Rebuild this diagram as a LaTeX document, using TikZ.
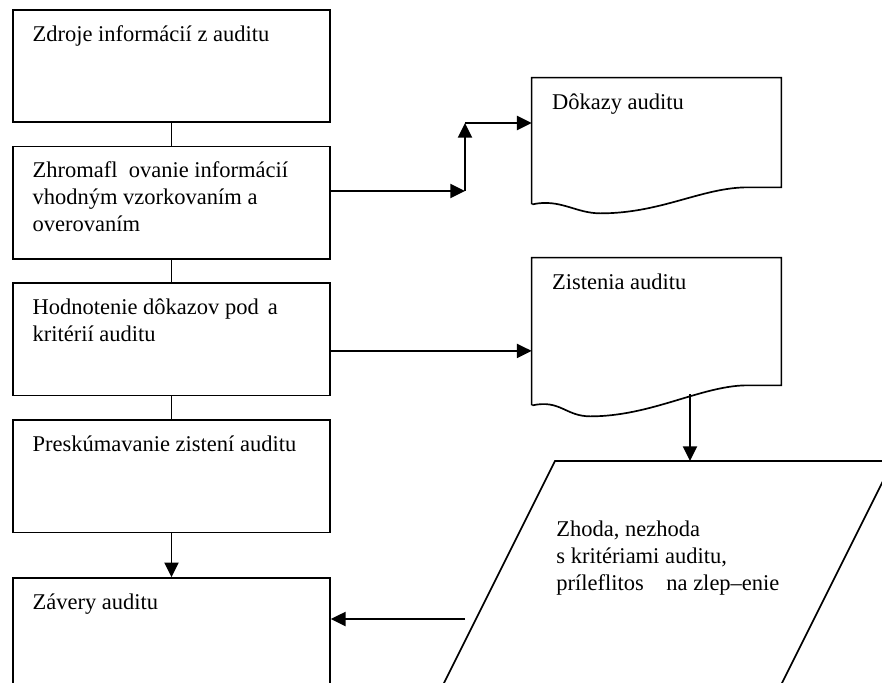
\documentclass[tikz,border=0pt]{standalone}
\usepackage{fontspec}
\setmainfont{Liberation Serif}
\usetikzlibrary{arrows.meta,positioning,calc}
\tikzset{
  step box/.style={
    rectangle, draw=black, line width=0.9pt,
    minimum width=169.1pt, minimum height=60pt, inner sep=0pt
  },
  doc area/.style={
    rectangle, minimum width=132.8pt, inner sep=0pt
  },
  boxtext/.style={
    align=left, inner sep=0pt,
    font=\fontsize{12}{14.2}\selectfont
  },
  outline/.style={line width=0.9pt, draw=black},
  arrow/.style={-{Triangle[length=7.8pt, width=7.5pt]}, line width=0.9pt, draw=black}
}

\begin{document}
\begin{tikzpicture}[x=0.5333pt, y=-0.5333pt, node distance=12pt]
  \clip (0,0) rectangle (882,683);

  % left column
  \node[step box] (source) at (171.5,66) {};
  \node[step box, below=of source] (gather) {};
  \node[step box, below=of gather] (evaluate) {};
  \node[step box, below=of evaluate] (review) {};
  \node[step box, below=23.5pt of review] (conclude) {};

  \node[boxtext, below right=8.6pt and 10.7pt of source.north west] (sourcetxt)
    {Zdroje informácií z auditu};
  \node[boxtext, below right=8.6pt and 10.7pt of gather.north west] (gathertxt)
    {Zhromafl\hspace{0.5em}ovanie informácií\\vhodným vzorkovaním a\\overovaním};
  \node[boxtext, below right=8.6pt and 10.7pt of evaluate.north west] (evaluatetxt)
    {Hodnotenie dôkazov pod\hspace{0.4em}a\\kritérií auditu};
  \node[boxtext, below right=8.6pt and 10.7pt of review.north west] (reviewtxt)
    {Preskúmavanie zistení auditu};
  \node[boxtext, below right=8.6pt and 10.7pt of conclude.north west] (concludetxt)
    {Závery auditu};

  \draw[outline] (source) -- (gather);
  \draw[outline] (gather) -- (evaluate);
  \draw[outline] (evaluate) -- (review);
  \draw[arrow] (review) -- (conclude);

  % documents
  \node[doc area, minimum height=58.1pt] (evidence) at (656.5,132.5) {};
  \draw[outline] (evidence.south west) ++(0,17) -- (evidence.north west)
    -- (evidence.north east) -- (evidence.south east) -- ++(-36,0)
    .. controls +(-45,1) and +(60,0) .. ++(-145,26)
    .. controls +(-25,0) and +(28,-6) .. ++(-68,-9);
  \node[boxtext, below right=8.6pt and 10.7pt of evidence.north west] (evidencetxt)
    {Dôkazy auditu};

  \node[doc area, minimum height=67.7pt] (findings) at (656.5,321.5) {};
  \draw[outline] (findings.south west) ++(0,20) -- (findings.north west)
    -- (findings.north east) -- (findings.south east) -- ++(-36,0)
    .. controls +(-45,1) and +(60,0) .. ++(-155,31)
    .. controls +(-25,0) and +(28,-6) .. ++(-58,-11);
  \node[boxtext, below right=8.6pt and 10.7pt of findings.north west] (findingstxt)
    {Zistenia auditu};

  % parallelogram
  \draw[outline] (555,461) coordinate (matchtop) -- (893,461)
    -- (773.5,700) -- (435.5,700) -- cycle;
  \node[boxtext, anchor=north west] (matchtxt) at (556,521)
    {Zhoda, nezhoda\\s kritériami auditu,\\príleflitos\hspace{1em}na zlep–enie};

  % connectors
  \coordinate (bend) at (465,191);
  \coordinate (bendtop) at (465,123);
  \coordinate (evalout) at ($(evaluate.east)+(0,11.5)$);
  \coordinate (wave) at (690,394);
  \coordinate (matchleft) at (465,619);
  \draw[arrow] (gather.east |- bend) -- (bend);
  \draw[arrow] (bend) -- (bendtop);
  \draw[arrow] (bendtop) -- (bendtop -| evidence.west);
  \draw[arrow] (evalout) -- (evalout -| findings.west);
  \draw[arrow] (wave) -- (wave |- matchtop);
  \draw[arrow] (matchleft) -- (matchleft -| conclude.east);
\end{tikzpicture}
\end{document}
